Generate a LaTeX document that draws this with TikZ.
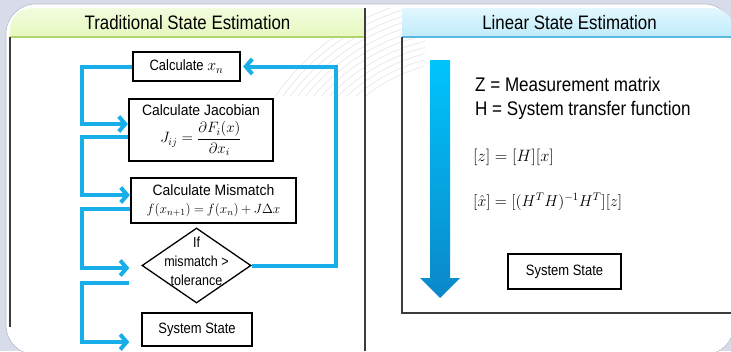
\documentclass[tikz,border=0pt]{standalone}
\usepackage{fix-cm}
\usepackage[no-math]{fontspec}
\setmainfont{Liberation Sans}
\newfontfamily\narrowsans{Liberation Sans}[FakeStretch=0.865]
\newfontfamily\midsans{Liberation Sans}[FakeStretch=0.93]
\usetikzlibrary{arrows.meta,shapes.geometric,calc}

\definecolor{pagebg}{RGB}{216,220,234}
\definecolor{greentop}{RGB}{242,252,222}
\definecolor{greenbot}{RGB}{212,240,142}
\definecolor{greenline}{RGB}{176,212,110}
\definecolor{bluetop}{RGB}{226,247,254}
\definecolor{bluebot}{RGB}{140,219,248}
\definecolor{blueline}{RGB}{92,184,224}
\definecolor{flowblue}{RGB}{23,174,234}
\definecolor{arrowtop}{RGB}{0,196,251}
\definecolor{arrowbot}{RGB}{11,135,201}
\definecolor{framegray}{RGB}{60,60,60}
\definecolor{swirl}{RGB}{232,232,236}

\tikzset{
  thickbox/.style={draw=black, line width=2.2pt, fill=white, inner sep=0pt, align=center},
  thinbox/.style={draw=black, line width=1.3pt, fill=white, inner sep=0pt, align=center},
  flow/.style={draw=flowblue, line width=4pt, -{Straight Barb[length=6.5pt,width=15pt]}},
  headtext/.style={inner sep=0pt, anchor=base, font=\fontsize{19.5}{23}\selectfont\narrowsans},
  bodytext/.style={inner sep=0pt, anchor=base west, font=\fontsize{19.7}{23}\selectfont\narrowsans},
  boxtext/.style={font=\fontsize{15}{18}\selectfont\narrowsans},
  eqtext/.style={inner sep=0pt, anchor=west, font=\fontsize{16.5}{19}\selectfont}
}

\begin{document}
\begin{tikzpicture}[x=1pt,y=-1pt]
\useasboundingbox (0,0) rectangle (731,351);

% page background and white sheet
\fill[pagebg] (0,0) rectangle (731,351);
\fill[white, draw=pagebg!85!black, line width=0.6pt, rounded corners=30pt] (6,4) rectangle (734,355);

% faint swirl texture between the two panels
\begin{scope}
  \clip (262,8) rectangle (425,95);
  \foreach \r in {170,176,...,236}
    \draw[swirl, line width=0.7pt] (470,230) circle[radius=\r];
\end{scope}

% green header of the left panel
\begin{scope}
  \clip (10,8) rectangle (365,37);
  \shade[top color=greentop, bottom color=greenbot, rounded corners=22pt] (10,8) rectangle (430,80);
\end{scope}
\draw[greenline, line width=1.5pt] (10,37) -- (365,37);
\node[headtext] (lefthead) at (187.5,29) {Traditional State Estimation};

% blue header of the right panel
\begin{scope}
  \clip (402,8) rectangle (731,37);
  \shade[top color=bluetop, bottom color=bluebot, rounded corners=22pt] (340,8) rectangle (734,80);
\end{scope}
\draw[blueline, line width=1.5pt] (402,37) -- (731,37);
\node[headtext] (righthead) at (569.5,29) {Linear State Estimation};

% panel frames
\draw[framegray, line width=1.3pt] (10,37) -- (10,327);
\draw[framegray, line width=1.3pt] (365,8) -- (365,351);
\draw[framegray, line width=1.3pt] (402,37) -- (402,313) -- (731,313);

% left flow chart
\node[thickbox, boxtext, minimum width=107pt, minimum height=29pt] (xn) at (186.5,66.5)
  {Calculate {\fontsize{16}{18}\selectfont$x_n$}};
\node[thickbox, minimum width=144pt, minimum height=62pt,
      font=\fontsize{15}{17}\selectfont\midsans] (jac) at (201,130)
  {Calculate Jacobian\\[5pt]
   {\fontsize{15}{17}\selectfont$\displaystyle J_{ij}=\frac{\partial F_i(x)}{\partial x_i}$}};
\node[thickbox, minimum width=165pt, minimum height=45pt,
      font=\fontsize{15}{18}\selectfont\midsans] (mis) at (213.5,200.5)
  {Calculate Mismatch\\
   {\fontsize{13.4}{18}\selectfont\thickmuskip=4mu\medmuskip=3mu$f(x_{n+1})=f(x_n)+J\Delta x$}};
\node[thinbox, diamond, minimum width=109pt, minimum height=75pt,
      label={[yshift=4.5pt, align=center, inner sep=0pt, font=\fontsize{14.5}{19}\selectfont\narrowsans]center:If\\mismatch >\\tolerance}]
  (dia) at (196.5,265.5) {};
\node[thinbox, boxtext, minimum width=110pt, minimum height=33pt] (ss1) at (197,329.5) {System State};

% connector end points on the node borders
\coordinate (lane) at (82,0);
\coordinate (rlane) at (336,0);
\coordinate (j1) at ([yshift=6pt]jac.west);
\coordinate (j2) at ([yshift=-7pt]jac.west);
\coordinate (m1) at ([yshift=5.5pt]mis.west);
\coordinate (m2) at ([yshift=-8pt]mis.west);
\coordinate (d1) at ([xshift=-12pt,yshift=-2.5pt]dia.west);
\coordinate (d2) at ([xshift=-12pt,yshift=-17.5pt]dia.west);
\coordinate (s1) at ([xshift=-12pt,yshift=-12.5pt]ss1.west);

\draw[flow] (xn.west) -| (lane |- j1) -- (j1);
\draw[flow] (j2) -| (lane |- m1) -- (m1);
\draw[flow] (m2) -| (lane |- d1) -- (d1);
\draw[flow] (d2) -| (lane |- s1) -- (s1);
\draw[flow] (dia.east) -| (rlane |- xn.east) -- ([xshift=2pt]xn.east);

% right panel: process arrow, definitions and equations
\shade[top color=arrowtop, bottom color=arrowbot]
  (430,60) -- (450,60) -- (450,278) -- (460,278) -- (440,298) -- (420,278) -- (430,278) -- cycle;
\node[bodytext] (zdef) at (475,91) {Z = Measurement matrix};
\node[bodytext] (hdef) at (475,115) {H = System transfer function};
\node[eqtext] (eq1) at (473,157) {$[z]=[H][x]$};
\node[eqtext, font=\fontsize{15.8}{19}\selectfont] (eq2) at (473,202) {$[\hat{x}]=[(H^TH)^{-1}H^T][z]$};
\node[thinbox, boxtext, minimum width=113pt, minimum height=35pt] (ss2) at (564.5,271.5) {System State};
\end{tikzpicture}
\end{document}
